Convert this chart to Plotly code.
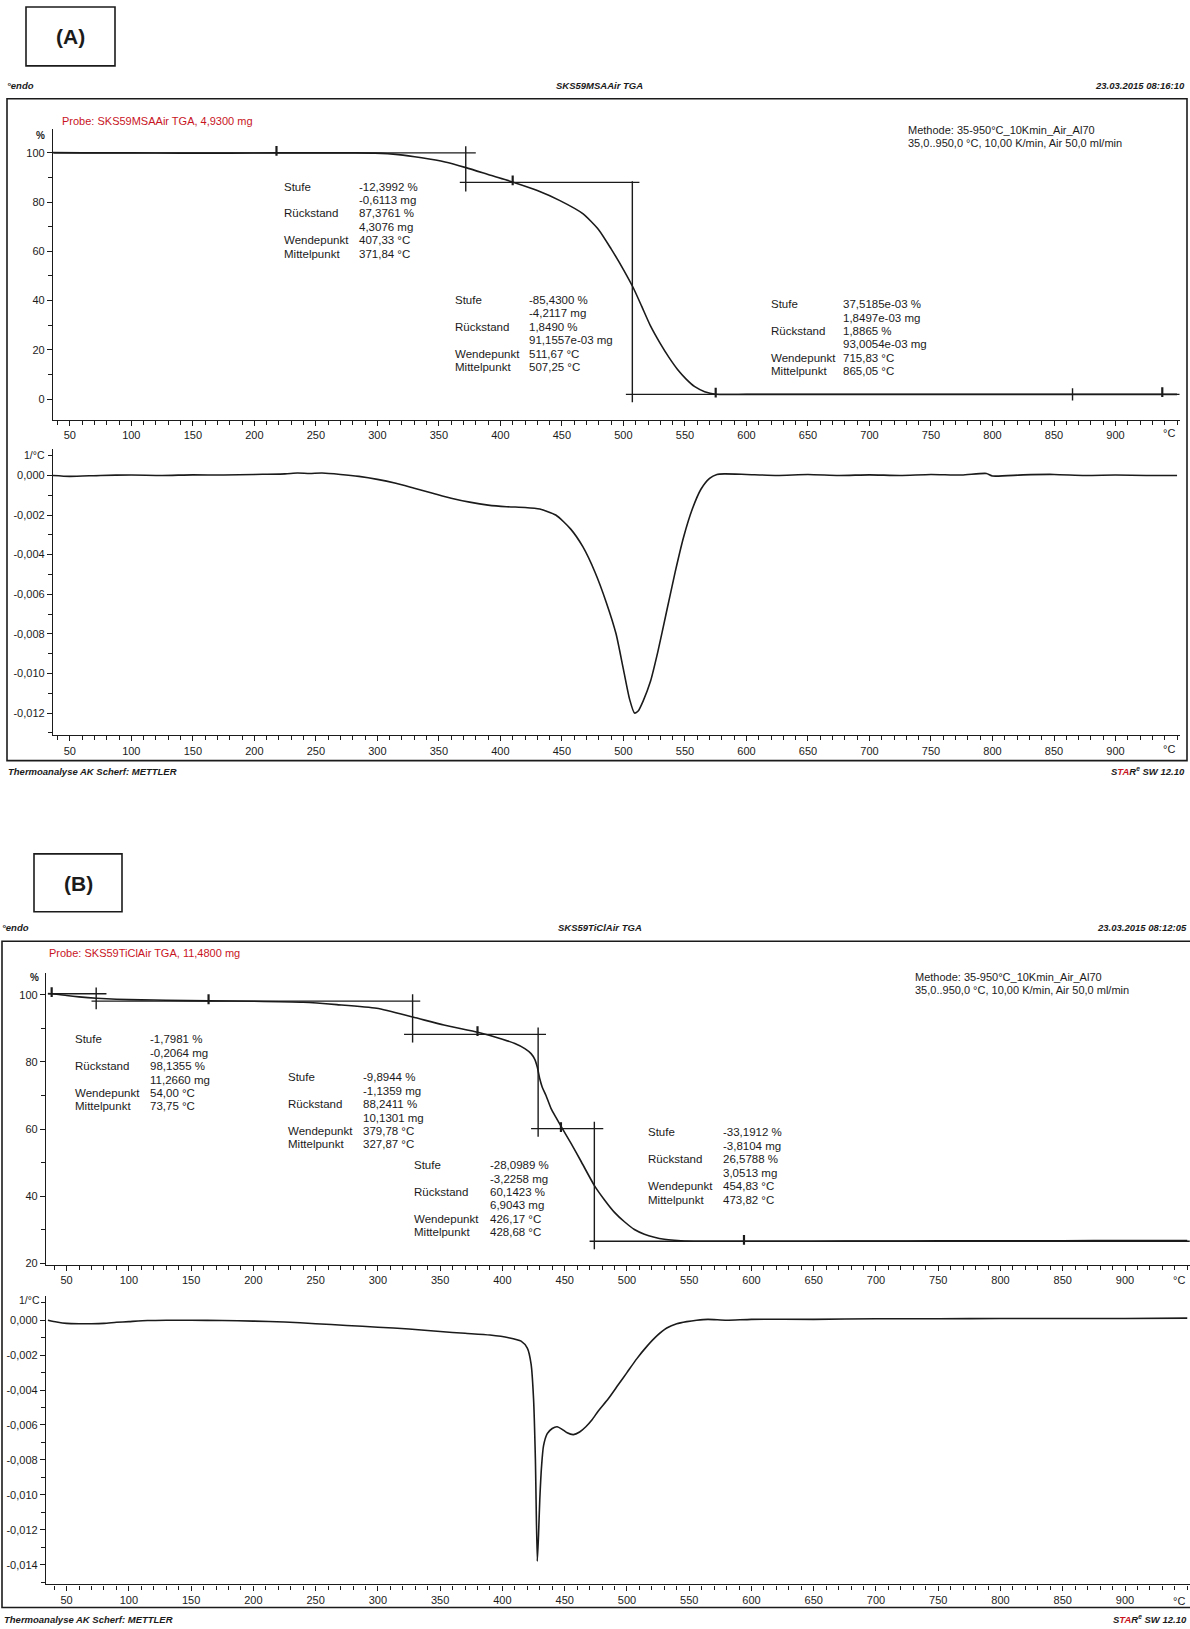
import plotly.graph_objects as go

W, H = 1190, 1629
FONT = "Liberation Sans, Arial, Helvetica, sans-serif"
INK = "#1b1b1b"
RED = "#c8141e"

# ---------------- DATA : panel (A)  SKS59MSAAir ----------------
A_TGA_T = [35, 60, 100, 140, 180, 218, 250, 280, 298, 317, 336, 355, 372, 392, 411, 430,
           448, 467, 480, 490, 500, 508, 515, 522, 530, 537, 544, 551, 558, 566, 575, 600,
           650, 700, 750, 800, 850, 900, 950]
A_TGA_M = [100.1, 100.0, 100.0, 99.9, 99.9, 100.0, 100.0, 100.0, 99.9, 99.3, 98.0, 96.3, 94.0,
           90.9, 88.0, 84.7, 80.7, 75.3, 68.7, 61.0, 52.6, 45.2, 37.5, 29.7, 22.5, 16.9, 12.0,
           8.1, 5.0, 3.0, 1.95, 1.88, 1.87, 1.87, 1.87, 1.87, 1.87, 1.88, 1.88]

A_DTG_T = [35, 50, 75, 100, 125, 150, 175, 200, 225, 235, 245, 255, 270, 285, 300, 315, 330,
           345, 360, 375, 390, 405, 420, 432, 445, 457, 467, 477, 486, 494, 500, 505, 509,
           512, 516, 522, 528, 535, 542, 549, 556, 563, 570, 576, 582, 600, 625, 650, 675,
           700, 725, 750, 775, 795, 800, 825, 850, 875, 900, 925, 950]
A_DTG_V = [0.0, -0.00005, 0.0, 0.00002, 0.0, 0.00003, 0.00002, 0.00005, 0.00008, 0.00012,
           0.0001, 0.00012, 0.00005, -0.00005, -0.0002, -0.0004, -0.00065, -0.0009, -0.00115,
           -0.00135, -0.0015, -0.00158, -0.00162, -0.0017, -0.002, -0.0027, -0.0036, -0.0049,
           -0.0064, -0.0080, -0.0098, -0.0113, -0.0120, -0.0119, -0.0114, -0.0104, -0.0089,
           -0.0069, -0.0049, -0.0031, -0.0017, -0.0007, -0.00015, 0.00005, 0.00008, 0.00005, 0.0,
           0.00005, 0.0, 0.00003, 0.0, 0.00005, 0.00002, 0.0001, -0.00003, 0.00003, 0.00005,
           0.0, 0.00002, 0.0, 0.0]

# tangent construction of the step evaluation (temperature, mass %)
A_STEP_LINES_T = [[37, 380], [371.84, 371.84], [367, 513], [507.25, 507.25], [502, 952],
                  [865.05, 865.05]]
A_STEP_LINES_M = [[100.0, 100.0], [84.3, 102.7], [88.0, 88.0], [-1.3, 88.5], [1.87, 1.87],
                  [-0.6, 4.4]]
A_MARK_T = [218, 410, 575, 938]
A_MARK_M = [100.8, 88.8, 2.6, 2.8]

# ---------------- DATA : panel (B)  SKS59TiClAir ----------------
B_TGA_T = [35, 42, 50, 60, 74, 90, 110, 130, 164, 200, 240, 267, 299, 328, 353, 381, 400,
           410, 418, 423, 426, 428, 430, 432, 435, 439, 443, 447, 455, 463, 474, 482, 490,
           498, 506, 514, 522, 530, 538, 554, 594, 650, 700, 750, 800, 850, 900, 950]
B_TGA_M = [100.4, 100.2, 99.8, 99.4, 99.0, 98.7, 98.5, 98.4, 98.2, 98.1, 97.8, 97.1, 96.0,
           93.4, 91.0, 88.8, 86.8, 85.5, 84.0, 82.5, 80.8, 78.5, 75.0, 72.5, 70.0, 66.2, 63.5,
           60.9, 55.8, 50.5, 43.1, 38.9, 35.2, 32.4, 30.1, 28.7, 27.8, 27.2, 26.9, 26.6, 26.6,
           26.6, 26.65, 26.7, 26.7, 26.75, 26.8, 26.8]

B_DTG_T = [35, 42, 50, 60, 70, 80, 90, 100, 115, 130, 150, 175, 200, 225, 250, 275, 300, 325,
           350, 370, 390, 405, 415, 420, 423, 425, 426.5, 428, 429, 430, 431.5, 433, 436, 440,
           444, 448, 452, 457, 462, 467, 472, 477, 485, 493, 500, 508, 516, 524, 532, 540, 548,
           556, 565, 580, 600, 650, 700, 750, 800, 850, 900, 950]
B_DTG_V = [0.0, -0.0001, -0.00018, -0.0002, -0.0002, -0.00018, -0.00012, -0.00008, -0.00002,
           0.0, 0.0, -0.00002, -0.00005, -0.0001, -0.0002, -0.0003, -0.0004, -0.0005, -0.00065,
           -0.00075, -0.00085, -0.001, -0.0012, -0.0016, -0.0025, -0.0045, -0.008, -0.0138,
           -0.0123, -0.0103, -0.0083, -0.0072, -0.0065, -0.0062, -0.0061, -0.00625, -0.00645,
           -0.00655, -0.0064, -0.0061, -0.0057, -0.0052, -0.0045, -0.0037, -0.003, -0.0022,
           -0.0015, -0.0009, -0.00045, -0.0002, -0.00008, 0.0, 0.00005, 0.0, 0.00005, 0.00005,
           0.00008, 0.00008, 0.0001, 0.0001, 0.0001, 0.00012]

B_STEP_LINES_T = [[35, 82], [73.75, 73.75], [70, 334], [327.87, 327.87], [321, 435],
                  [428.68, 428.68], [423, 481], [473.82, 473.82], [470, 952]]
B_STEP_LINES_M = [[100.35, 100.35], [95.7, 102.2], [98.13, 98.13], [85.8, 100.2],
                  [88.24, 88.24], [57.7, 90.3], [60.14, 60.14], [24.2, 62.2], [26.58, 26.58]]
B_MARK_T = [38, 164, 380, 447, 594]
B_MARK_M = [100.8, 98.7, 89.2, 60.6, 27.0]

# ---------------- tick labels ----------------
X_TICKS = [50, 100, 150, 200, 250, 300, 350, 400, 450, 500, 550, 600, 650, 700, 750, 800, 850, 900]
X_TICK_TEXT = [str(v) for v in X_TICKS]
A_TGA_YTICKS = [0, 20, 40, 60, 80, 100]
A_TGA_YTEXT = ["0", "20", "40", "60", "80", "100"]
B_TGA_YTICKS = [20, 40, 60, 80, 100]
B_TGA_YTEXT = ["20", "40", "60", "80", "100"]
A_DTG_YTICKS = [0, -0.002, -0.004, -0.006, -0.008, -0.010, -0.012]
A_DTG_YTEXT = ["0,000", "-0,002", "-0,004", "-0,006", "-0,008", "-0,010", "-0,012"]
B_DTG_YTICKS = [0, -0.002, -0.004, -0.006, -0.008, -0.010, -0.012, -0.014]
B_DTG_YTEXT = ["0,000", "-0,002", "-0,004", "-0,006", "-0,008", "-0,010", "-0,012", "-0,014"]

# ---------------- step evaluation texts ----------------
ROW_LABELS = ["Stufe", "", "Rückstand", "", "Wendepunkt", "Mittelpunkt"]
A_STEP_VALUES = [
    ["-12,3992 %", "-0,6113 mg", "87,3761 %", "4,3076 mg", "407,33 °C", "371,84 °C"],
    ["-85,4300 %", "-4,2117 mg", "1,8490 %", "91,1557e-03 mg", "511,67 °C", "507,25 °C"],
    ["37,5185e-03 %", "1,8497e-03 mg", "1,8865 %", "93,0054e-03 mg", "715,83 °C", "865,05 °C"],
]
B_STEP_VALUES = [
    ["-1,7981 %", "-0,2064 mg", "98,1355 %", "11,2660 mg", "54,00 °C", "73,75 °C"],
    ["-9,8944 %", "-1,1359 mg", "88,2411 %", "10,1301 mg", "379,78 °C", "327,87 °C"],
    ["-28,0989 %", "-3,2258 mg", "60,1423 %", "6,9043 mg", "426,17 °C", "428,68 °C"],
    ["-33,1912 %", "-3,8104 mg", "26,5788 %", "3,0513 mg", "454,83 °C", "473,82 °C"],
]

# ---------------- layout helpers (pixel positions) ----------------
def xdom(a, b):
    return [a / W, min(b / W, 1.0)]


def ydom(top, bottom):
    return [1 - bottom / H, 1 - top / H]


def make_xaxis(dom, rng, anchor):
    return dict(domain=dom, range=rng, anchor=anchor, showline=True, linecolor=INK,
                linewidth=1.3, ticks="outside", ticklen=5, tickwidth=1.2, tickcolor=INK,
                tickmode="array", tickvals=X_TICKS, ticktext=X_TICK_TEXT,
                tickfont=dict(family=FONT, size=11, color=INK), showgrid=False,
                zeroline=False, fixedrange=True,
                minor=dict(ticks="outside", ticklen=4, tickwidth=1, tickcolor=INK,
                           tickmode="linear", tick0=0, dtick=10, showgrid=False))


def make_yaxis(dom, rng, anchor, vals, text, mdt):
    return dict(domain=dom, range=rng, anchor=anchor, showline=True, linecolor=INK,
                linewidth=1.3, ticks="outside", ticklen=5, tickwidth=1.2, tickcolor=INK,
                tickmode="array", tickvals=vals, ticktext=text,
                tickfont=dict(family=FONT, size=11, color=INK), showgrid=False,
                zeroline=False, fixedrange=True,
                minor=dict(ticks="outside", ticklen=4, tickwidth=1, tickcolor=INK,
                           tickmode="linear", tick0=0, dtick=mdt, showgrid=False))


def ann(text, px, py, size=11, xanchor="left", yanchor="middle", color=INK):
    return dict(text=text, x=px / W, y=1 - py / H, xref="paper", yref="paper",
                xanchor=xanchor, yanchor=yanchor, showarrow=False, borderpad=0,
                font=dict(family=FONT, size=size, color=color))


def joined(list_x, list_y):
    xs, ys = [], []
    for a, b in zip(list_x, list_y):
        xs += list(a) + [None]
        ys += list(b) + [None]
    return xs, ys


fig = go.Figure()

curve = dict(color=INK, width=1.6, shape="spline", smoothing=0.6)
panels = [
    ("x", "y", A_TGA_T, A_TGA_M), ("x2", "y2", A_DTG_T, A_DTG_V),
    ("x3", "y3", B_TGA_T, B_TGA_M), ("x4", "y4", B_DTG_T, B_DTG_V),
]
for xa, ya, xs, ys in panels:
    fig.add_trace(go.Scatter(x=xs, y=ys, xaxis=xa, yaxis=ya, mode="lines", line=curve,
                             hoverinfo="skip"))

for xa, ya, lx, ly, mx, my in [("x", "y", A_STEP_LINES_T, A_STEP_LINES_M, A_MARK_T, A_MARK_M),
                               ("x3", "y3", B_STEP_LINES_T, B_STEP_LINES_M, B_MARK_T, B_MARK_M)]:
    sx, sy = joined(lx, ly)
    fig.add_trace(go.Scatter(x=sx, y=sy, xaxis=xa, yaxis=ya, mode="lines",
                             line=dict(color=INK, width=1.4), hoverinfo="skip"))
    fig.add_trace(go.Scatter(x=mx, y=my, xaxis=xa, yaxis=ya, mode="markers",
                             marker=dict(symbol="line-ns", size=7,
                                         line=dict(color=INK, width=2.2)),
                             hoverinfo="skip"))

fig.update_layout(
    width=W, height=H, margin=dict(l=0, r=0, t=0, b=0),
    paper_bgcolor="white", plot_bgcolor="white", showlegend=False,
    xaxis=make_xaxis(xdom(53, 1180), [36.35, 952.4], "y"),
    yaxis=make_yaxis(ydom(129.3, 420.7), [-8.39, 109.7], "x", A_TGA_YTICKS, A_TGA_YTEXT, 10),
    xaxis2=make_xaxis(xdom(53, 1180), [36.35, 952.4], "y2"),
    yaxis2=make_yaxis(ydom(450, 737), [-0.01312, 0.00134], "x2", A_DTG_YTICKS, A_DTG_YTEXT, 0.001),
    xaxis3=make_xaxis(xdom(46, 1190), [33.45, 952.2], "y3"),
    yaxis3=make_yaxis(ydom(975, 1268), [19.55, 106.63], "x3", B_TGA_YTICKS, B_TGA_YTEXT, 10),
    xaxis4=make_xaxis(xdom(46, 1190), [33.45, 952.2], "y4"),
    yaxis4=make_yaxis(ydom(1299.3, 1588.3), [-0.01513, 0.00138], "x4", B_DTG_YTICKS, B_DTG_YTEXT, 0.001),
)

# frames and label boxes
shapes = []
for x0, y0, x1, y1, w in [(7, 99, 1187, 762.5, 1.6), (2, 943.5, 1196, 1611.5, 1.6),
                          (26, 7, 115, 66, 1.6), (34, 856, 122, 914, 1.6)]:
    shapes.append(dict(type="rect", xref="paper", yref="paper", x0=x0 / W, x1=x1 / W,
                       y0=1 - y1 / H, y1=1 - y0 / H, line=dict(color=INK, width=w),
                       fillcolor="rgba(0,0,0,0)", layer="above"))
fig.update_layout(shapes=shapes)

annots = []
# big panel labels
annots.append(ann("<b>(A)</b>", 70.5, 37, size=21, xanchor="center"))
annots.append(ann("<b>(B)</b>", 78, 886, size=21, xanchor="center"))

# headers / footers
hdr = 9.5
annots += [
    ann("<b><i>°endo</i></b>", 6, 86, size=hdr),
    ann("<b><i>SKS59MSAAir TGA</i></b>", 599, 86, size=hdr, xanchor="center"),
    ann("<b><i>23.03.2015 08:16:10</i></b>", 1186, 86, size=hdr, xanchor="right"),
    ann("<b><i>Thermoanalyse AK Scherf: METTLER</i></b>", 7, 773, size=hdr),
    ann("<b><i>S<span style='color:%s'>TA</span>R<sup>e</sup> SW 12.10</i></b>" % RED,
        1186, 773, size=hdr, xanchor="right"),
    ann("<b><i>°endo</i></b>", 1, 930, size=hdr),
    ann("<b><i>SKS59TiClAir TGA</i></b>", 600, 930, size=hdr, xanchor="center"),
    ann("<b><i>23.03.2015 08:12:05</i></b>", 1188, 930, size=hdr, xanchor="right"),
    ann("<b><i>Thermoanalyse AK Scherf: METTLER</i></b>", 3, 1623, size=hdr),
    ann("<b><i>S<span style='color:%s'>TA</span>R<sup>e</sup> SW 12.10</i></b>" % RED,
        1188, 1623, size=hdr, xanchor="right"),
]

# sample / method info
annots += [
    ann("Probe: SKS59MSAAir TGA, 4,9300 mg", 61, 121, size=11, color=RED),
    ann("Methode: 35-950°C_10Kmin_Air_Al70", 907, 130, size=11),
    ann("35,0..950,0 °C, 10,00 K/min, Air 50,0 ml/min", 907, 143.5, size=11),
    ann("Probe: SKS59TiClAir TGA, 11,4800 mg", 48, 955, size=11, color=RED),
    ann("Methode: 35-950°C_10Kmin_Air_Al70", 914, 979, size=11),
    ann("35,0..950,0 °C, 10,00 K/min, Air 50,0 ml/min", 914, 992.5, size=11),
]

# axis unit labels
annots += [
    ann("<b>%</b>", 46, 136, size=10, xanchor="right"),
    ann("1/°C", 46, 456, size=10.5, xanchor="right"),
    ann("°C", 1169, 434.5, size=11, xanchor="center"),
    ann("°C", 1169, 751, size=11, xanchor="center"),
    ann("<b>%</b>", 40, 980, size=10, xanchor="right"),
    ann("1/°C", 41, 1303, size=10.5, xanchor="right"),
    ann("°C", 1178.5, 1283, size=11, xanchor="center"),
    ann("°C", 1178.5, 1604.5, size=11, xanchor="center"),
]

# step evaluation blocks: (label x, value x, first row y, row step)
A_BLOCK_POS = [(283, 357.5, 187, 13.45), (453.5, 528, 300.7, 13.5), (769.5, 842, 305, 13.35)]
B_BLOCK_POS = [(74, 149, 1041.7, 13.5), (286.7, 361.8, 1080, 13.45),
               (413.2, 488.5, 1168.3, 13.35), (647, 722, 1135, 13.5)]
for values_list, pos_list in [(A_STEP_VALUES, A_BLOCK_POS), (B_STEP_VALUES, B_BLOCK_POS)]:
    for values, (lx, vx, y0, dy) in zip(values_list, pos_list):
        for i, (lab, val) in enumerate(zip(ROW_LABELS, values)):
            yy = y0 + i * dy
            if lab:
                annots.append(ann(lab, lx, yy, size=11.5))
            annots.append(ann(val, vx, yy, size=11.5))

fig.update_layout(annotations=annots)

fig.write_html("out.html", config={"displayModeBar": False},
               post_script="document.body.style.margin='0px';")
